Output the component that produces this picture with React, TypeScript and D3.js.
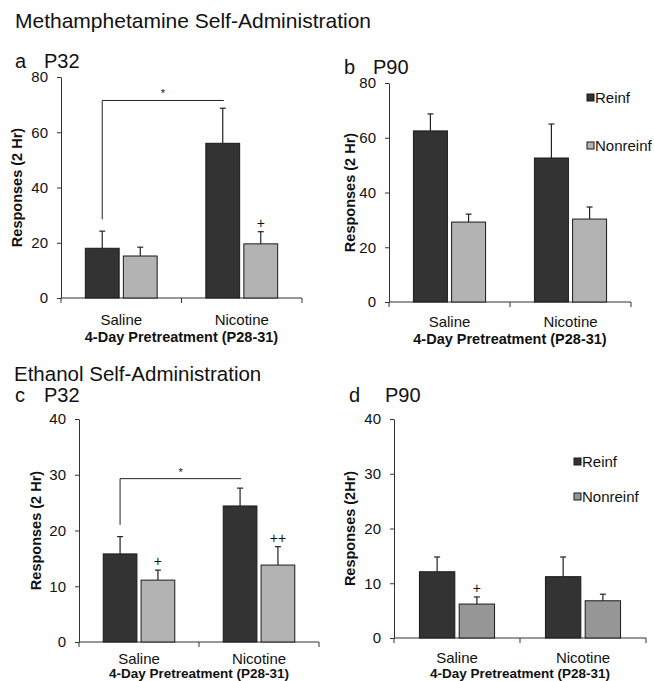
import { useEffect, useRef } from 'react';
import * as d3 from 'd3';

const categories = ['Saline', 'Nicotine'];
const series = ['Reinf', 'Nonreinf'];

// means and SEM
const methP32Reinf = [18.0, 56.0];
const methP32ReinfErr = [6.2, 12.7];
const methP32Nonreinf = [15.2, 19.6];
const methP32NonreinfErr = [3.2, 4.4];

const methP90Reinf = [62.5, 52.6];
const methP90ReinfErr = [6.2, 12.4];
const methP90Nonreinf = [29.2, 30.3];
const methP90NonreinfErr = [2.9, 4.4];

const ethP32Reinf = [15.8, 24.4];
const ethP32ReinfErr = [3.1, 3.2];
const ethP32Nonreinf = [11.1, 13.8];
const ethP32NonreinfErr = [1.8, 3.3];

const ethP90Reinf = [12.1, 11.2];
const ethP90ReinfErr = [2.7, 3.6];
const ethP90Nonreinf = [6.2, 6.8];
const ethP90NonreinfErr = [1.3, 1.2];

const methTicks = [0, 20, 40, 60, 80];
const ethTicks = [0, 10, 20, 30, 40];

const FONT = 'Arial, "Liberation Sans", sans-serif';
const DARK = '#333333';

const panels = [
  {
    letter: 'a', age: 'P32', ticks: methTicks, yLabel: 'Responses (2 Hr)',
    reinf: methP32Reinf, reinfErr: methP32ReinfErr, non: methP32Nonreinf, nonErr: methP32NonreinfErr,
    nonColor: '#b3b3b3', legend: false,
    bracket: { y: 71.5, leg: 28.5, star: '*' },
    marks: [{ cat: 'Nicotine', text: '+' }],
    box: { left: 61, right: 302, top: 77, bottom: 298 },
    headX: 15, headY: 68, labelX: 17, catY: 325, titleY: 342, titleSize: 14.5,
  },
  {
    letter: 'b', age: 'P90', ticks: methTicks, yLabel: 'Responses (2 Hr)',
    reinf: methP90Reinf, reinfErr: methP90ReinfErr, non: methP90Nonreinf, nonErr: methP90NonreinfErr,
    nonColor: '#b3b3b3', legend: true,
    bracket: null,
    marks: [],
    box: { left: 389, right: 631, top: 83, bottom: 302 },
    headX: 344, headY: 74, labelX: 350, catY: 327, titleY: 344, titleSize: 14.5,
    legendX: 587, legendY: 94,
  },
  {
    letter: 'c', age: 'P32', ticks: ethTicks, yLabel: 'Responses (2 Hr)',
    reinf: ethP32Reinf, reinfErr: ethP32ReinfErr, non: ethP32Nonreinf, nonErr: ethP32NonreinfErr,
    nonColor: '#b3b3b3', legend: false,
    bracket: { y: 29.3, leg: 21, star: '*' },
    marks: [{ cat: 'Saline', text: '+' }, { cat: 'Nicotine', text: '++' }],
    box: { left: 79, right: 319, top: 419, bottom: 642 },
    headX: 15, headY: 402, labelX: 36, catY: 664, titleY: 678, titleSize: 13.5,
  },
  {
    letter: 'd', age: 'P90', ticks: ethTicks, yLabel: 'Responses (2Hr)',
    reinf: ethP90Reinf, reinfErr: ethP90ReinfErr, non: ethP90Nonreinf, nonErr: ethP90NonreinfErr,
    nonColor: '#969696', legend: true,
    bracket: null,
    marks: [{ cat: 'Saline', text: '+' }],
    box: { left: 394, right: 646, top: 419, bottom: 638 },
    headX: 349, headY: 402, labelX: 350, catY: 663, titleY: 678, titleSize: 13.5,
    legendX: 574, legendY: 458,
  },
];

const App = () => {
  const svgRef = useRef<SVGSVGElement>(null);

  useEffect(() => {
    if (!svgRef.current) return;
    const svg = d3.select(svgRef.current);
    svg.selectAll('*').remove();
    svg.style('font-family', FONT);

    svg.append('text').attr('x', 15).attr('y', 28).style('font-size', '21px').style('fill', '#111')
      .text('Methamphetamine Self-Administration');
    svg.append('text').attr('x', 14).attr('y', 381).style('font-size', '20.5px').style('fill', '#111')
      .text('Ethanol Self-Administration');

    panels.forEach((p) => {
      const g = svg.append('g');
      const { left, right, top, bottom } = p.box;

      const y = d3.scaleLinear()
        .domain([p.ticks[0], p.ticks[p.ticks.length - 1]])
        .range([bottom, top]);
      const x0 = d3.scaleBand().domain(categories).range([left, right]).padding(0);
      const x1 = d3.scaleBand().domain(series).range([0, x0.bandwidth()])
        .paddingInner(0.11).paddingOuter(0.64);

      // panel heading
      g.append('text').attr('x', p.headX).attr('y', p.headY).style('font-size', '20px').style('fill', '#111').text(p.letter);
      g.append('text').attr('x', p.headX + (p.letter === 'd' ? 36 : 29)).attr('y', p.headY).style('font-size', '20px').style('fill', '#111').text(p.age);

      // y axis
      const yAxis = g.append('g')
        .attr('transform', `translate(${left},0)`)
        .call(d3.axisLeft(y).tickValues(p.ticks).tickSize(4).tickPadding(9).tickSizeOuter(0));
      yAxis.select('.domain').attr('stroke', DARK);
      yAxis.selectAll('.tick line').attr('stroke', DARK);
      yAxis.selectAll('.tick text').style('font-size', '15px').style('font-family', FONT).attr('fill', '#111');

      // x axis with ticks at category boundaries
      g.append('line').attr('x1', left).attr('x2', right).attr('y1', bottom).attr('y2', bottom).attr('stroke', DARK);
      const bounds = [left, ...categories.map((c) => (x0(c) as number) + x0.bandwidth())];
      g.selectAll('.xtick').data(bounds).enter().append('line')
        .attr('x1', (d) => d).attr('x2', (d) => d)
        .attr('y1', bottom).attr('y2', bottom + 5)
        .attr('stroke', DARK);
      g.selectAll('.xlab').data(categories).enter().append('text')
        .attr('x', (d) => (x0(d) as number) + x0.bandwidth() / 2)
        .attr('y', p.catY)
        .attr('text-anchor', 'middle')
        .style('font-size', '15px').style('fill', '#111')
        .text((d) => d);
      g.append('text')
        .attr('x', (left + right) / 2).attr('y', p.titleY)
        .attr('text-anchor', 'middle')
        .style('font-size', `${p.titleSize}px`).style('font-weight', 'bold').style('fill', '#111')
        .text('4-Day Pretreatment (P28-31)');
      g.append('text')
        .attr('transform', `translate(${p.labelX},${(top + bottom) / 2}) rotate(-90)`)
        .attr('text-anchor', 'middle').attr('dominant-baseline', 'central')
        .style('font-size', '14.5px').style('font-weight', 'bold').style('fill', '#111')
        .text(p.yLabel);

      const rows = categories.flatMap((c, i) => [
        { cat: c, s: 'Reinf', v: p.reinf[i], e: p.reinfErr[i], color: DARK },
        { cat: c, s: 'Nonreinf', v: p.non[i], e: p.nonErr[i], color: p.nonColor },
      ]);
      const bx = (d: { cat: string; s: string }) => (x0(d.cat) as number) + (x1(d.s) as number);
      const cx = (d: { cat: string; s: string }) => bx(d) + x1.bandwidth() / 2;

      // error bars (upper only)
      g.selectAll('.err').data(rows).enter().append('line')
        .attr('x1', cx).attr('x2', cx)
        .attr('y1', (d) => y(d.v)).attr('y2', (d) => y(d.v + d.e))
        .attr('stroke', '#222').attr('stroke-width', 1.2);
      g.selectAll('.cap').data(rows).enter().append('line')
        .attr('x1', (d) => cx(d) - 3).attr('x2', (d) => cx(d) + 3)
        .attr('y1', (d) => y(d.v + d.e)).attr('y2', (d) => y(d.v + d.e))
        .attr('stroke', '#222').attr('stroke-width', 1.2);

      g.selectAll('.bar').data(rows).enter().append('rect')
        .attr('x', bx)
        .attr('y', (d) => y(d.v))
        .attr('width', x1.bandwidth())
        .attr('height', (d) => bottom - y(d.v))
        .attr('fill', (d) => d.color)
        .attr('stroke', '#1a1a1a').attr('stroke-width', 1);

      // significance bracket
      if (p.bracket) {
        const xa = cx({ cat: 'Saline', s: 'Reinf' });
        const xb = cx({ cat: 'Nicotine', s: 'Reinf' }) + 1;
        g.append('path')
          .attr('d', `M${xa},${y(p.bracket.leg)}V${y(p.bracket.y)}H${xb}`)
          .attr('fill', 'none').attr('stroke', '#222').attr('stroke-width', 1);
        g.append('text')
          .attr('x', (xa + xb) / 2).attr('y', y(p.bracket.y) - 3)
          .attr('text-anchor', 'middle')
          .style('font-size', '11px').style('fill', '#111')
          .text(p.bracket.star);
      }

      // marks above nonreinforced bars
      p.marks.forEach((m) => {
        const i = categories.indexOf(m.cat);
        const d = { cat: m.cat, s: 'Nonreinf' };
        g.append('text')
          .attr('x', cx(d)).attr('y', y(p.non[i] + p.nonErr[i]) - 4)
          .attr('text-anchor', 'middle')
          .style('font-size', '14px').style('fill', '#111')
          .text(m.text);
      });

      if (p.legend) {
        const lx = p.legendX as number;
        const ly = p.legendY as number;
        const items = [
          { label: 'Reinf', color: DARK, dy: 0 },
          { label: 'Nonreinf', color: p.nonColor, dy: p.letter === 'b' ? 48 : 35 },
        ];
        items.forEach((it) => {
          g.append('rect').attr('x', lx).attr('y', ly + it.dy).attr('width', 7).attr('height', 7)
            .attr('fill', it.color).attr('stroke', '#1a1a1a').attr('stroke-width', 1);
          g.append('text').attr('x', lx + 8).attr('y', ly + it.dy + 9)
            .style('font-size', '15px').style('fill', '#111').text(it.label);
        });
      }
    });
  }, []);

  return (
    <svg ref={svgRef} width={654} height={681}
      style={{ position: 'absolute', left: 0, top: 0, background: '#fff' }} />
  );
};

export default App;
